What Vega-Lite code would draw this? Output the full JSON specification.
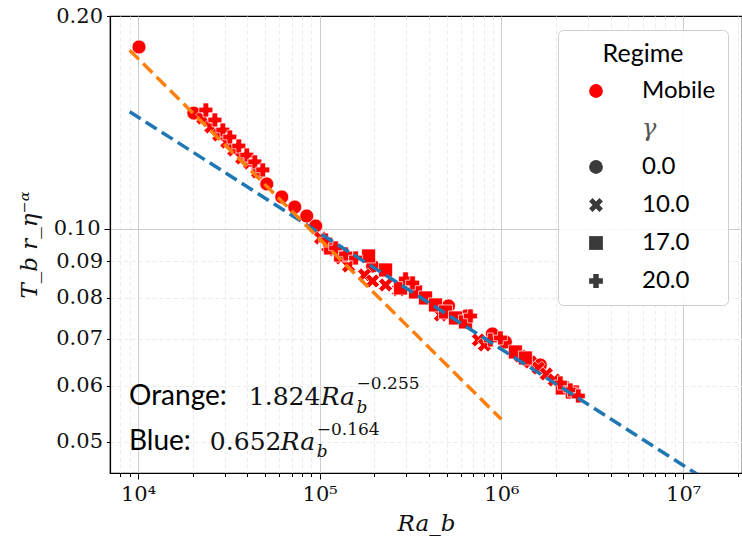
{
"$schema": "https://vega.github.io/schema/vega-lite/v6.json",
"width": 632,
"height": 457,
"autosize": {"type": "none"},
"padding": {"left": 110, "top": 16, "right": 0, "bottom": 68},
"background": "white",
"config": {
  "view": {"stroke": "black", "strokeWidth": 1.2},
  "axis": {
    "domainColor": "black", "domainWidth": 1.2, "tickColor": "black", "tickWidth": 1,
    "labelColor": "#111111", "labelFont": "DejaVu Serif", "labelFontSize": 21,
    "titleFont": "DejaVu Serif", "titleFontStyle": "italic", "titleFontWeight": "normal", "titleFontSize": 23, "titleColor": "#111111",
    "labelOverlap": false, "labelFlush": false, "labelBound": false, "gridWidth": 1
  }
},
"datasets": {
  "points": [
    {"Ra": 10127, "T": 0.1808, "regime": "Mobile", "gamma": "0.0"},
    {"Ra": 20310, "T": 0.1458, "regime": "Mobile", "gamma": "0.0"},
    {"Ra": 51140, "T": 0.1158, "regime": "Mobile", "gamma": "0.0"},
    {"Ra": 61830, "T": 0.1110, "regime": "Mobile", "gamma": "0.0"},
    {"Ra": 72900, "T": 0.1074, "regime": "Mobile", "gamma": "0.0"},
    {"Ra": 84850, "T": 0.1043, "regime": "Mobile", "gamma": "0.0"},
    {"Ra": 95080, "T": 0.1010, "regime": "Mobile", "gamma": "0.0"},
    {"Ra": 195500, "T": 0.08866, "regime": "Mobile", "gamma": "0.0"},
    {"Ra": 511600, "T": 0.07785, "regime": "Mobile", "gamma": "0.0"},
    {"Ra": 642400, "T": 0.07535, "regime": "Mobile", "gamma": "0.0"},
    {"Ra": 892400, "T": 0.07107, "regime": "Mobile", "gamma": "0.0"},
    {"Ra": 1052000, "T": 0.06924, "regime": "Mobile", "gamma": "0.0"},
    {"Ra": 1638000, "T": 0.06424, "regime": "Mobile", "gamma": "0.0"},
    {"Ra": 22760, "T": 0.1435, "regime": "Mobile", "gamma": "10.0"},
    {"Ra": 25190, "T": 0.1394, "regime": "Mobile", "gamma": "10.0"},
    {"Ra": 27870, "T": 0.1358, "regime": "Mobile", "gamma": "10.0"},
    {"Ra": 30830, "T": 0.1327, "regime": "Mobile", "gamma": "10.0"},
    {"Ra": 33700, "T": 0.1293, "regime": "Mobile", "gamma": "10.0"},
    {"Ra": 37270, "T": 0.1260, "regime": "Mobile", "gamma": "10.0"},
    {"Ra": 41250, "T": 0.1240, "regime": "Mobile", "gamma": "10.0"},
    {"Ra": 45630, "T": 0.1204, "regime": "Mobile", "gamma": "10.0"},
    {"Ra": 101300, "T": 0.09711, "regime": "Mobile", "gamma": "10.0"},
    {"Ra": 110700, "T": 0.09462, "regime": "Mobile", "gamma": "10.0"},
    {"Ra": 120900, "T": 0.09340, "regime": "Mobile", "gamma": "10.0"},
    {"Ra": 132100, "T": 0.09100, "regime": "Mobile", "gamma": "10.0"},
    {"Ra": 144300, "T": 0.08866, "regime": "Mobile", "gamma": "10.0"},
    {"Ra": 176700, "T": 0.08609, "regime": "Mobile", "gamma": "10.0"},
    {"Ra": 195500, "T": 0.08444, "regime": "Mobile", "gamma": "10.0"},
    {"Ra": 230500, "T": 0.08334, "regime": "Mobile", "gamma": "10.0"},
    {"Ra": 271800, "T": 0.08198, "regime": "Mobile", "gamma": "10.0"},
    {"Ra": 462300, "T": 0.07560, "regime": "Mobile", "gamma": "10.0"},
    {"Ra": 747300, "T": 0.06969, "regime": "Mobile", "gamma": "10.0"},
    {"Ra": 806700, "T": 0.06856, "regime": "Mobile", "gamma": "10.0"},
    {"Ra": 1272000, "T": 0.06615, "regime": "Mobile", "gamma": "10.0"},
    {"Ra": 1443000, "T": 0.06487, "regime": "Mobile", "gamma": "10.0"},
    {"Ra": 1597000, "T": 0.06362, "regime": "Mobile", "gamma": "10.0"},
    {"Ra": 1767000, "T": 0.06239, "regime": "Mobile", "gamma": "10.0"},
    {"Ra": 1955000, "T": 0.06118, "regime": "Mobile", "gamma": "10.0"},
    {"Ra": 114900, "T": 0.09401, "regime": "Mobile", "gamma": "17.0"},
    {"Ra": 130400, "T": 0.09189, "regime": "Mobile", "gamma": "17.0"},
    {"Ra": 185900, "T": 0.09159, "regime": "Mobile", "gamma": "17.0"},
    {"Ra": 230500, "T": 0.08751, "regime": "Mobile", "gamma": "17.0"},
    {"Ra": 278700, "T": 0.08253, "regime": "Mobile", "gamma": "17.0"},
    {"Ra": 336900, "T": 0.08147, "regime": "Mobile", "gamma": "17.0"},
    {"Ra": 382300, "T": 0.07990, "regime": "Mobile", "gamma": "17.0"},
    {"Ra": 433900, "T": 0.07810, "regime": "Mobile", "gamma": "17.0"},
    {"Ra": 492400, "T": 0.07634, "regime": "Mobile", "gamma": "17.0"},
    {"Ra": 558800, "T": 0.07486, "regime": "Mobile", "gamma": "17.0"},
    {"Ra": 634300, "T": 0.07390, "regime": "Mobile", "gamma": "17.0"},
    {"Ra": 1194000, "T": 0.06702, "regime": "Mobile", "gamma": "17.0"},
    {"Ra": 1355000, "T": 0.06572, "regime": "Mobile", "gamma": "17.0"},
    {"Ra": 2164000, "T": 0.05961, "regime": "Mobile", "gamma": "17.0"},
    {"Ra": 2455000, "T": 0.05884, "regime": "Mobile", "gamma": "17.0"},
    {"Ra": 23640, "T": 0.1473, "regime": "Mobile", "gamma": "20.0"},
    {"Ra": 26500, "T": 0.1426, "regime": "Mobile", "gamma": "20.0"},
    {"Ra": 29320, "T": 0.1380, "regime": "Mobile", "gamma": "20.0"},
    {"Ra": 32030, "T": 0.1349, "regime": "Mobile", "gamma": "20.0"},
    {"Ra": 35890, "T": 0.1310, "regime": "Mobile", "gamma": "20.0"},
    {"Ra": 39710, "T": 0.1272, "regime": "Mobile", "gamma": "20.0"},
    {"Ra": 43950, "T": 0.1244, "regime": "Mobile", "gamma": "20.0"},
    {"Ra": 48620, "T": 0.1212, "regime": "Mobile", "gamma": "20.0"},
    {"Ra": 107900, "T": 0.09648, "regime": "Mobile", "gamma": "20.0"},
    {"Ra": 122400, "T": 0.09401, "regime": "Mobile", "gamma": "20.0"},
    {"Ra": 139000, "T": 0.09219, "regime": "Mobile", "gamma": "20.0"},
    {"Ra": 157700, "T": 0.09100, "regime": "Mobile", "gamma": "20.0"},
    {"Ra": 296900, "T": 0.08500, "regime": "Mobile", "gamma": "20.0"},
    {"Ra": 324500, "T": 0.08389, "regime": "Mobile", "gamma": "20.0"},
    {"Ra": 675500, "T": 0.07535, "regime": "Mobile", "gamma": "20.0"},
    {"Ra": 870000, "T": 0.06969, "regime": "Mobile", "gamma": "20.0"},
    {"Ra": 987600, "T": 0.07015, "regime": "Mobile", "gamma": "20.0"},
    {"Ra": 2110000, "T": 0.06059, "regime": "Mobile", "gamma": "20.0"},
    {"Ra": 2394000, "T": 0.05922, "regime": "Mobile", "gamma": "20.0"},
    {"Ra": 2649000, "T": 0.05808, "regime": "Mobile", "gamma": "20.0"}
  ],
  "fits": [
    {"fit": "Blue", "Ra": 9000, "T": 0.14648},
    {"fit": "Blue", "Ra": 21100000, "T": 0.04102},
    {"fit": "Orange", "Ra": 9000, "T": 0.17893},
    {"fit": "Orange", "Ra": 1000000, "T": 0.05383}
  ],
  "notes": [
    {"Ra": 8924, "T": 0.05789, "part": "label", "text": "Orange:"},
    {"Ra": 40730, "T": 0.05789, "part": "num", "text": "1.824"},
    {"Ra": 101300, "T": 0.05789, "part": "var", "text": "Ra"},
    {"Ra": 159700, "T": 0.05585, "part": "sub", "text": "b"},
    {"Ra": 159700, "T": 0.06039, "part": "sup", "text": "−0.255"},
    {"Ra": 8924, "T": 0.05, "part": "label", "text": "Blue:"},
    {"Ra": 24870, "T": 0.05, "part": "num", "text": "0.652"},
    {"Ra": 61070, "T": 0.05, "part": "var", "text": "Ra"},
    {"Ra": 96270, "T": 0.04839, "part": "sub", "text": "b"},
    {"Ra": 96270, "T": 0.05198, "part": "sup", "text": "−0.164"}
  ]
},
"encoding": {
  "x": {
    "field": "Ra", "type": "quantitative",
    "scale": {"type": "log", "domain": [7015, 21100000], "nice": false},
    "axis": {
      "title": "Ra_b",
      "values": [8000, 9000, 10000, 20000, 30000, 40000, 50000, 60000, 70000, 80000, 90000, 100000, 200000, 300000, 400000, 500000, 600000, 700000, 800000, 900000, 1000000, 2000000, 3000000, 4000000, 5000000, 6000000, 7000000, 8000000, 9000000, 10000000, 20000000],
      "labelExpr": "datum.value == 10000 ? '10⁴' : datum.value == 100000 ? '10⁵' : datum.value == 1000000 ? '10⁶' : datum.value == 10000000 ? '10⁷' : ''",
      "tickSize": {"condition": {"test": "indexof([10000, 100000, 1000000, 10000000], datum.value) >= 0", "value": 6}, "value": 3.5},
      "gridDash": {"condition": {"test": "indexof([10000, 100000, 1000000, 10000000], datum.value) >= 0", "value": []}, "value": [4, 3]},
      "gridColor": {"condition": {"test": "indexof([10000, 100000, 1000000, 10000000], datum.value) >= 0", "value": "#cccccc"}, "value": "#ebebeb"},
      "labelPadding": 4,
      "titlePadding": 8
    }
  },
  "y": {
    "field": "T", "type": "quantitative",
    "scale": {"type": "log", "domain": [0.0452, 0.2], "nice": false},
    "axis": {
      "title": "T_b r_η⁻ᵅ",
      "values": [0.05, 0.06, 0.07, 0.08, 0.09, 0.1, 0.2],
      "labelExpr": "format(datum.value, '.2f')",
      "tickSize": {"condition": {"test": "datum.value == 0.1", "value": 6}, "value": 3.5},
      "gridDash": {"condition": {"test": "datum.value == 0.1", "value": []}, "value": [4, 3]},
      "gridColor": {"condition": {"test": "datum.value == 0.1", "value": "#cccccc"}, "value": "#ebebeb"},
      "gridOpacity": {"condition": {"test": "datum.value == 0.2", "value": 0}, "value": 1},
      "labelPadding": 4,
      "titlePadding": 12
    }
  }
},
"layer": [
  {
    "data": {"name": "points"},
    "mark": {"type": "point", "filled": true, "opacity": 0, "size": 190},
    "encoding": {
      "shape": {
        "field": "gamma", "type": "nominal",
        "scale": {
          "domain": ["Mobile", "γ", "0.0", "10.0", "17.0", "20.0"],
          "range": ["circle", "circle", "circle", "M-1,-0.5L-0.5,-1L0,-0.5L0.5,-1L1,-0.5L0.5,0L1,0.5L0.5,1L0,0.5L-0.5,1L-1,0.5L-0.5,0Z", "square", "cross"]
        },
        "legend": {
          "title": "Regime",
          "orient": "none", "legendX": 448, "legendY": 14,
          "padding": 12,
          "strokeColor": "#d0d0d0", "fillColor": "rgba(255,255,255,0.85)", "cornerRadius": 5,
          "titleFont": "Lato", "titleFontSize": 25, "titleFontWeight": "normal", "titleColor": "#000000", "titleAnchor": "middle", "titlePadding": 12,
          "labelFont": {"expr": "datum.value === 'γ' ? 'DejaVu Serif' : 'Lato'"},
          "labelFontSize": 24,
          "labelColor": {"expr": "datum.value === 'γ' ? '#555555' : '#000000'"},
          "labelFontStyle": {"expr": "datum.value === 'γ' ? 'italic' : 'normal'"},
          "symbolSize": 190, "symbolOffset": 14, "labelOffset": 34, "rowPadding": 14, "symbolOpacity": 1, "symbolStrokeWidth": 0
        }
      },
      "color": {
        "field": "gamma", "type": "nominal",
        "scale": {
          "domain": ["Mobile", "γ", "0.0", "10.0", "17.0", "20.0"],
          "range": ["#ff0000", "transparent", "#3a3a3a", "#3a3a3a", "#3a3a3a", "#3a3a3a"]
        },
        "legend": {
          "title": "Regime",
          "orient": "none", "legendX": 448, "legendY": 14,
          "padding": 12,
          "strokeColor": "#d0d0d0", "fillColor": "rgba(255,255,255,0.85)", "cornerRadius": 5,
          "titleFont": "Lato", "titleFontSize": 25, "titleFontWeight": "normal", "titleColor": "#000000", "titleAnchor": "middle", "titlePadding": 12,
          "labelFont": {"expr": "datum.value === 'γ' ? 'DejaVu Serif' : 'Lato'"},
          "labelFontSize": 24,
          "labelColor": {"expr": "datum.value === 'γ' ? '#555555' : '#000000'"},
          "labelFontStyle": {"expr": "datum.value === 'γ' ? 'italic' : 'normal'"},
          "symbolSize": 190, "symbolOffset": 14, "labelOffset": 34, "rowPadding": 14, "symbolOpacity": 1, "symbolStrokeWidth": 0
        }
      }
    }
  },
  {
    "data": {"name": "points"},
    "mark": {"type": "point", "filled": true, "color": "#ff0000", "stroke": "#ffffff", "strokeWidth": 0.7, "opacity": 1, "size": 195},
    "encoding": {
      "shape": {"field": "gamma", "type": "nominal", "legend": null}
    }
  },
  {
    "data": {"name": "fits"},
    "transform": [{"filter": "datum.fit === 'Blue'"}],
    "mark": {"type": "line", "color": "#1f77b4", "strokeWidth": 3.5, "strokeDash": [13, 6], "clip": true},
    "encoding": {}
  },
  {
    "data": {"name": "fits"},
    "transform": [{"filter": "datum.fit === 'Orange'"}],
    "mark": {"type": "line", "color": "#ff7f0e", "strokeWidth": 3.5, "strokeDash": [13, 6], "clip": true},
    "encoding": {}
  },
  {
    "data": {"name": "notes"},
    "transform": [{"filter": "datum.part === 'label'"}],
    "mark": {"type": "text", "align": "left", "baseline": "middle", "font": "Lato", "fontSize": 28, "color": "#000000"},
    "encoding": {"text": {"field": "text"}}
  },
  {
    "data": {"name": "notes"},
    "transform": [{"filter": "datum.part === 'num'"}],
    "mark": {"type": "text", "align": "left", "baseline": "middle", "font": "DejaVu Serif", "fontSize": 25, "color": "#111111"},
    "encoding": {"text": {"field": "text"}}
  },
  {
    "data": {"name": "notes"},
    "transform": [{"filter": "datum.part === 'var'"}],
    "mark": {"type": "text", "align": "left", "baseline": "middle", "font": "DejaVu Serif", "fontStyle": "italic", "fontSize": 25, "color": "#111111"},
    "encoding": {"text": {"field": "text"}}
  },
  {
    "data": {"name": "notes"},
    "transform": [{"filter": "datum.part === 'sub'"}],
    "mark": {"type": "text", "align": "left", "baseline": "middle", "font": "DejaVu Serif", "fontStyle": "italic", "fontSize": 17, "color": "#111111"},
    "encoding": {"text": {"field": "text"}}
  },
  {
    "data": {"name": "notes"},
    "transform": [{"filter": "datum.part === 'sup'"}],
    "mark": {"type": "text", "align": "left", "baseline": "middle", "font": "DejaVu Serif", "fontSize": 17, "color": "#111111"},
    "encoding": {"text": {"field": "text"}}
  }
]
}
